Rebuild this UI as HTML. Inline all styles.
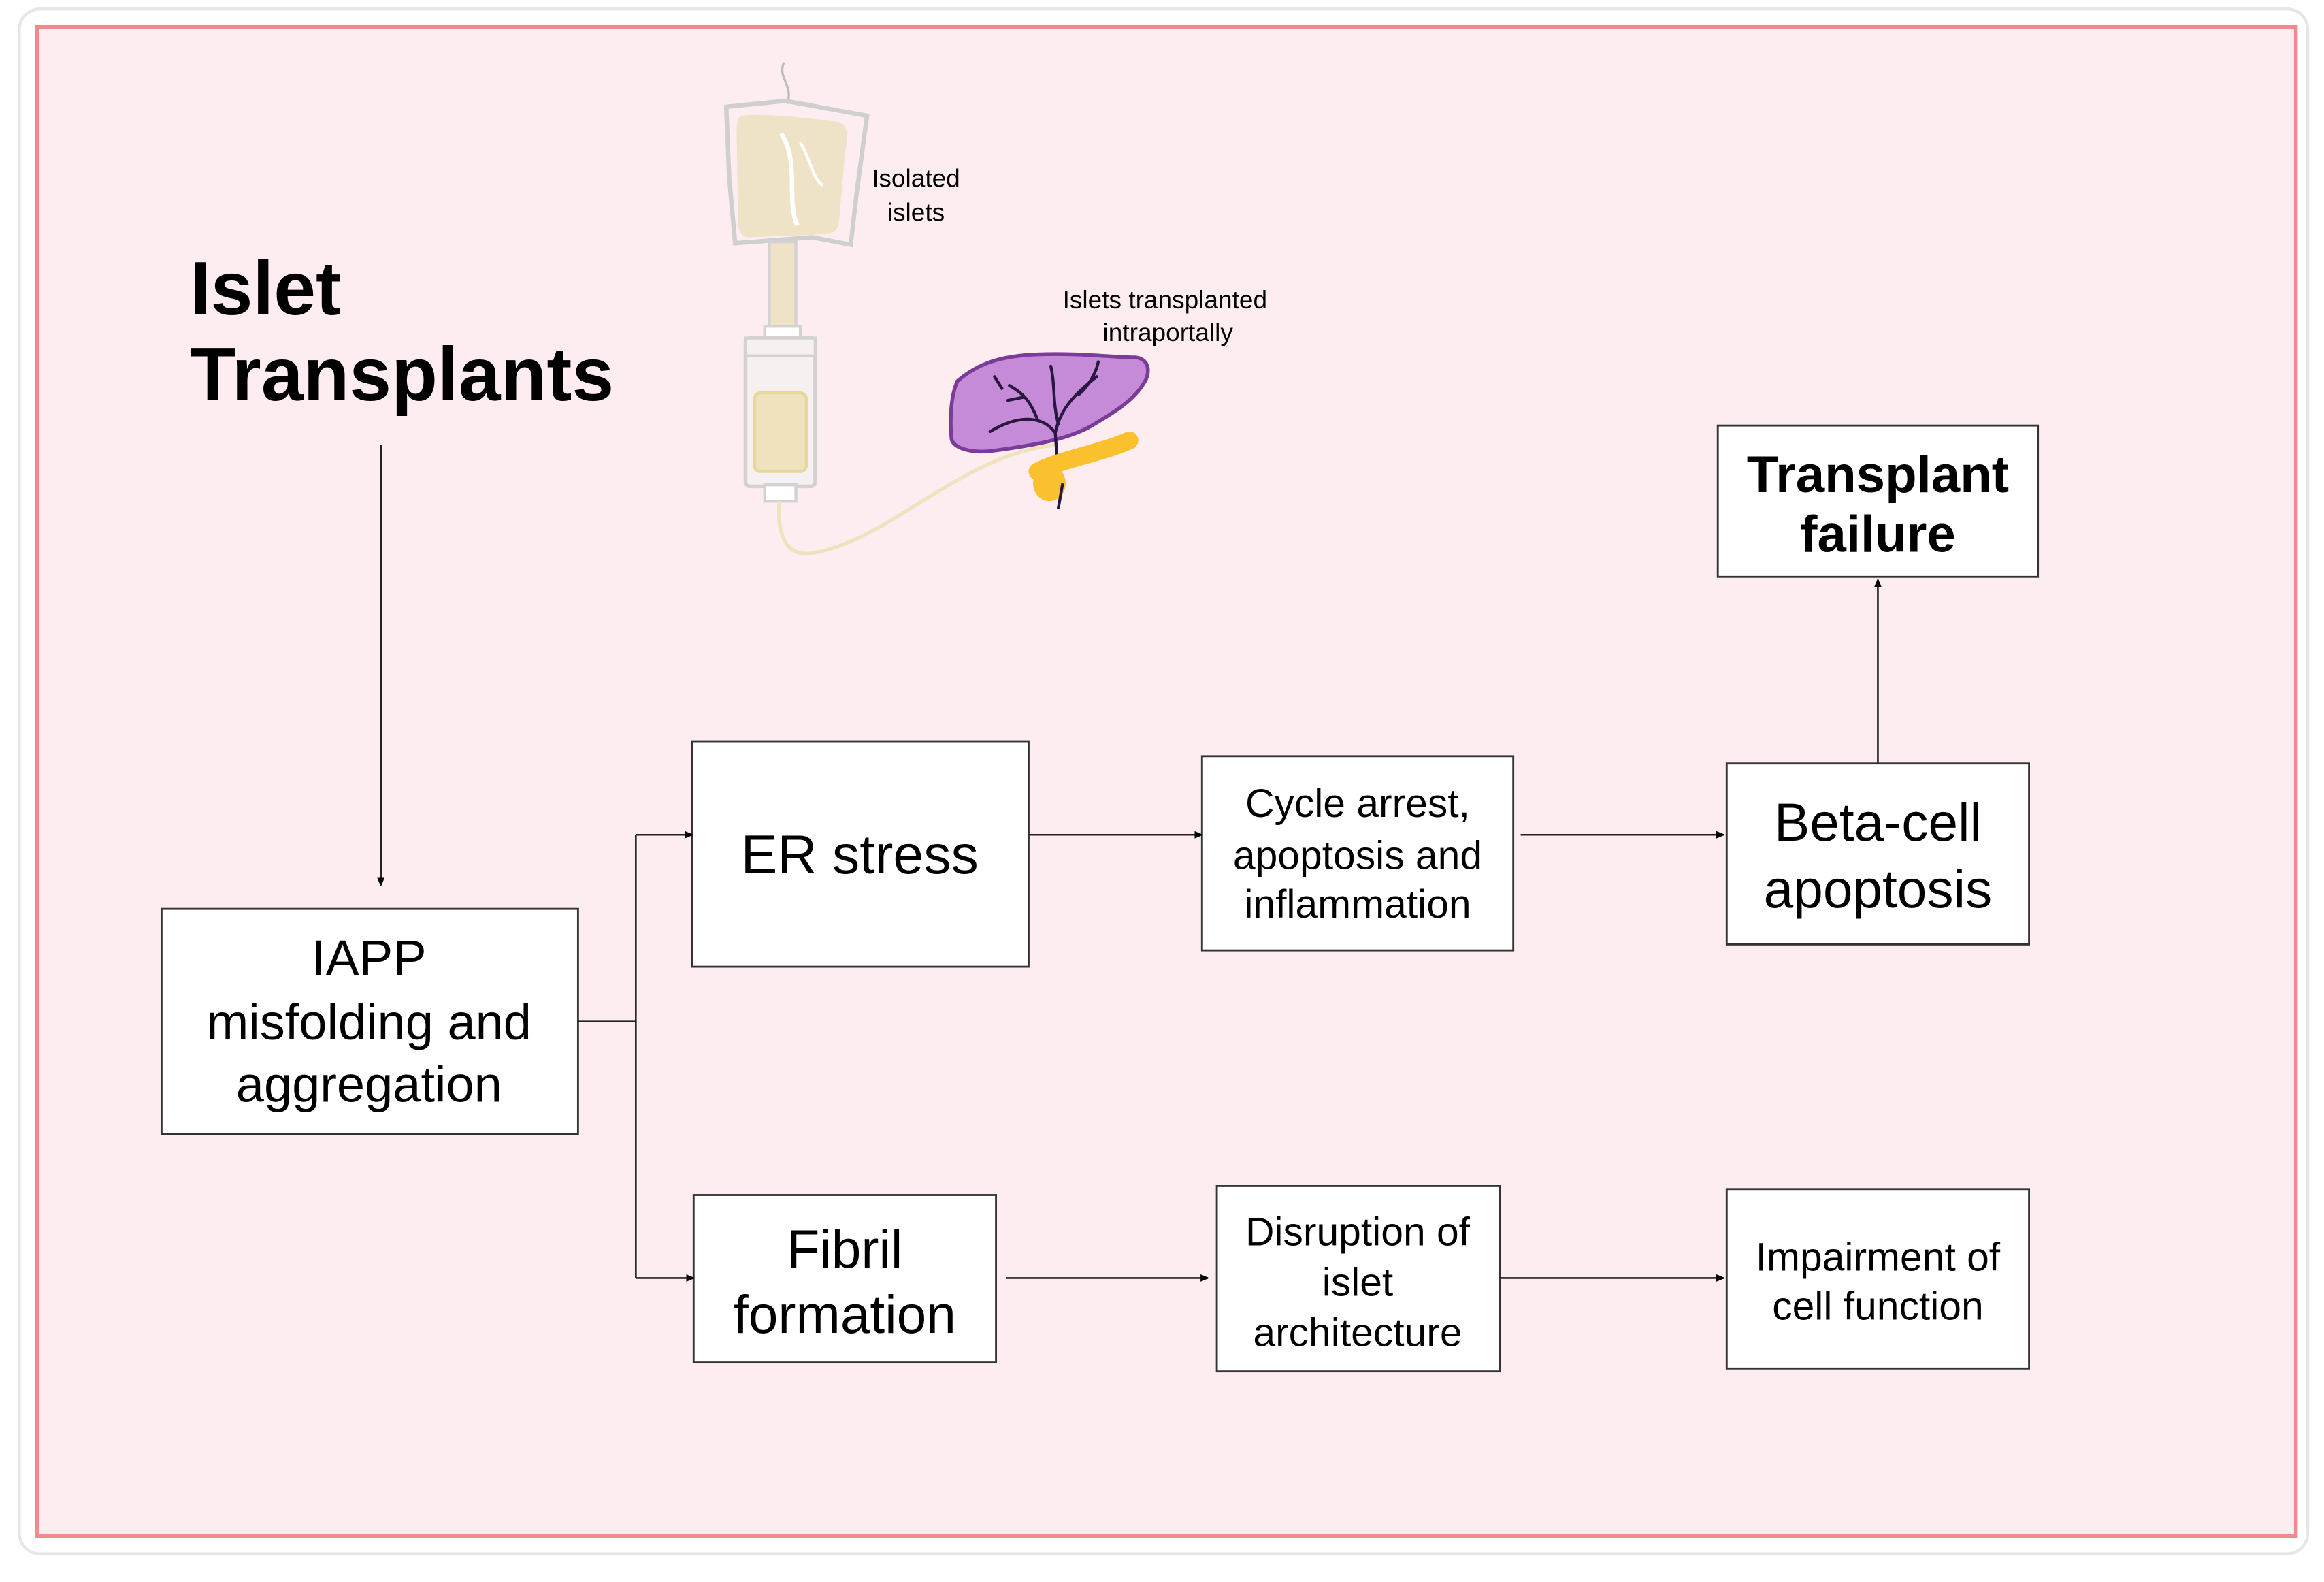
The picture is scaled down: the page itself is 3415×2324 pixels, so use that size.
<!DOCTYPE html>
<html><head><meta charset="utf-8"><style>
html,body{margin:0;padding:0;background:#fff;}
svg{display:block;}
text{font-family:"Liberation Sans",Arial,sans-serif;fill:#000;}
</style></head><body>
<svg width="3415" height="2324" viewBox="0 0 1568 1067" xmlns="http://www.w3.org/2000/svg">
<defs><marker id="a" markerWidth="6" markerHeight="6" refX="5" refY="3" orient="auto" markerUnits="userSpaceOnUse"><path d="M0,0.5 L6,3 L0,5.5 z" fill="#000"/></marker></defs>
<rect x="0" y="0" width="1568" height="1067" fill="#fff"/>
<rect x="13" y="6" width="1544" height="1042" rx="14" fill="none" stroke="#e6e6e6" stroke-width="2"/>
<rect x="25" y="18" width="1524" height="1018" fill="#fdedf0" stroke="#f08a8e" stroke-width="2.5"/>

<text x="128" y="212" font-size="51" font-weight="bold">Islet</text>
<text x="128" y="270" font-size="51" font-weight="bold">Transplants</text>

<!-- illustration -->
<path d="M529,42 C524,52 536,58 531,70" fill="none" stroke="#bbb" stroke-width="1.5"/>
<path d="M490,72 L530,68 L585,78 L578,130 L574,165 L548,160 L496,164 L492,120 Z" fill="none" stroke="#cfcfcf" stroke-width="3"/>
<path d="M500,78 C520,76 545,80 565,82 C573,84 572,92 570,105 L566,150 C565,157 560,158 555,158 L505,160 C500,160 498,155 498,150 L497,90 C497,82 498,79 500,78 Z" fill="#eee3c6"/>
<path d="M527,90 C540,110 530,135 538,152" fill="none" stroke="#fff" stroke-width="3"/>
<path d="M540,96 C548,110 548,120 555,125" fill="none" stroke="#fff" stroke-width="2"/>
<rect x="519" y="163" width="18" height="59" fill="#eee3c6" stroke="#d2d2d2" stroke-width="2"/>
<rect x="516" y="220" width="24" height="8" fill="#fff" stroke="#d2d2d2" stroke-width="2"/>
<rect x="503" y="228" width="47" height="100" rx="3" fill="#f6f1f0" stroke="#d2d2d2" stroke-width="2.5"/>
<rect x="503" y="228" width="47" height="12" fill="#f6f1f0" stroke="#d2d2d2" stroke-width="2"/>
<rect x="509" y="265" width="35" height="53" rx="4" fill="#efe3bf" stroke="#e8d79a" stroke-width="2"/>
<rect x="516" y="327" width="21" height="11" fill="#fff" stroke="#d2d2d2" stroke-width="2"/>
<path d="M526,338 C524,360 530,376 548,373 C600,365 650,305 714,300" fill="none" stroke="#efe3bf" stroke-width="2.5"/>
<path d="M646,257 C660,245 675,240 700,239 C730,238 750,241 766,241 C776,242 776,252 772,258 C765,270 752,278 735,288 C720,296 700,300 670,304 C655,306 643,302 642,296 C641,285 641,268 646,257 Z" fill="#c58ad8" stroke="#7a3c98" stroke-width="2.5"/>
<g fill="none" stroke="#2a1740" stroke-width="2" stroke-linecap="round">
<path d="M714,320 L712,292 C705,282 690,278 668,291"/>
<path d="M712,292 C715,278 722,268 740,254"/>
<path d="M700,283 C695,270 690,265 681,260"/>
<path d="M714,286 C710,270 712,260 709,247"/>
<path d="M728,266 C735,260 740,250 741,244"/>
<path d="M690,268 L680,270"/>
<path d="M676,262 L671,254"/>
</g>
<path d="M700,318 C715,310 745,305 762,297" fill="none" stroke="#fbc02d" stroke-width="12" stroke-linecap="round"/>
<ellipse cx="708" cy="326" rx="11" ry="12" fill="#fbc02d"/>
<path d="M717,326 L714,343" stroke="#2a1740" stroke-width="2"/>
<text x="618" y="126" font-size="17" text-anchor="middle">Isolated</text>
<text x="618" y="149" font-size="17" text-anchor="middle">islets</text>
<text x="786" y="208" font-size="17" text-anchor="middle">Islets transplanted</text>
<text x="788" y="230" font-size="17" text-anchor="middle">intraportally</text>

<!-- boxes -->
<g fill="#fff" stroke="#333" stroke-width="1.3">
<rect x="1159" y="287" width="216" height="102"/>
<rect x="467" y="500" width="227" height="152"/>
<rect x="811" y="510" width="210" height="131"/>
<rect x="1165" y="515" width="204" height="122"/>
<rect x="109" y="613" width="281" height="152"/>
<rect x="468" y="806" width="204" height="113"/>
<rect x="821" y="800" width="191" height="125"/>
<rect x="1165" y="802" width="204" height="121"/>
</g>
<g text-anchor="middle">
<text x="1267" y="332" font-size="35" font-weight="bold">Transplant</text>
<text x="1267" y="372" font-size="35" font-weight="bold">failure</text>
<text x="580" y="589" font-size="37">ER stress</text>
<text x="916" y="551" font-size="27">Cycle arrest,</text>
<text x="916" y="586" font-size="27">apoptosis and</text>
<text x="916" y="619" font-size="27">inflammation</text>
<text x="1267" y="567" font-size="36">Beta-cell</text>
<text x="1267" y="612" font-size="36">apoptosis</text>
<text x="249" y="658" font-size="34">IAPP</text>
<text x="249" y="701" font-size="34">misfolding and</text>
<text x="249" y="743" font-size="34">aggregation</text>
<text x="570" y="855" font-size="36">Fibril</text>
<text x="570" y="899" font-size="36">formation</text>
<text x="916" y="840" font-size="27">Disruption of</text>
<text x="916" y="874" font-size="27">islet</text>
<text x="916" y="908" font-size="27">architecture</text>
<text x="1267" y="857" font-size="27">Impairment of</text>
<text x="1267" y="890" font-size="27">cell function</text>
</g>

<!-- connectors -->
<g fill="none" stroke="#222" stroke-width="1.2">
<path d="M257,300 L257,597" marker-end="url(#a)"/>
<path d="M390,689 L429,689"/>
<path d="M429,563 L429,862"/>
<path d="M429,563 L467,563" marker-end="url(#a)"/>
<path d="M429,862 L468,862" marker-end="url(#a)"/>
<path d="M694,563 L811,563" marker-end="url(#a)"/>
<path d="M1026,563 L1163,563" marker-end="url(#a)"/>
<path d="M1267,515 L1267,391" marker-end="url(#a)"/>
<path d="M679,862 L815,862" marker-end="url(#a)"/>
<path d="M1012,862 L1163,862" marker-end="url(#a)"/>
</g>
</svg>
</body></html>
